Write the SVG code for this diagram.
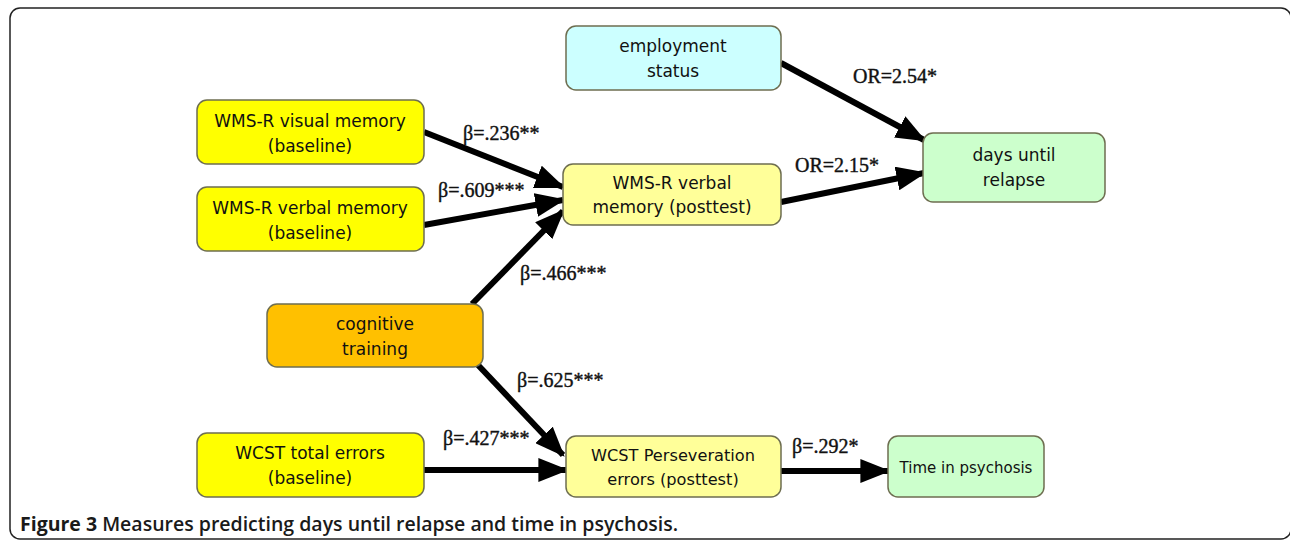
<svg xmlns="http://www.w3.org/2000/svg" width="1290" height="542" viewBox="0 0 1290 542">
<style>
.node{stroke:#6e6e50;stroke-width:1.5}
.nt{font-family:"DejaVu Sans",sans-serif;font-size:17px;fill:#111;text-anchor:middle}
.nt.s{font-size:16.2px}
.nt.xs{font-size:15px}
.lbl{font-family:"Liberation Serif",serif;font-size:20px;fill:#111;stroke:#111;stroke-width:0.4}
.edge{stroke:#000;stroke-width:6;fill:none;marker-end:url(#ah)}
.cap{font-family:"Open Sans","Noto Sans",sans-serif;font-size:19.5px;fill:#1a1a1a}
</style>
<defs>
<marker id="ah" markerWidth="5" markerHeight="4" refX="4.6" refY="2" orient="auto" markerUnits="strokeWidth">
<path d="M0,0 L5,2 L0,4 z" fill="#000"/>
</marker>
</defs>
<rect x="10" y="8" width="1281" height="531" rx="10" fill="#fff" stroke="#222" stroke-width="1.5"/>
<g id="connectors">
<line class="edge" x1="424" y1="132" x2="563" y2="187"/>
<line class="edge" x1="424" y1="225" x2="563" y2="200"/>
<line class="edge" x1="472" y1="304" x2="563" y2="211"/>
<line class="edge" x1="478" y1="365" x2="563" y2="455"/>
<line class="edge" x1="424" y1="470" x2="566" y2="470"/>
<line class="edge" x1="781" y1="471" x2="888" y2="471"/>
<line class="edge" x1="781" y1="63" x2="924" y2="140"/>
<line class="edge" x1="781" y1="202" x2="924" y2="173"/>
</g>
<g id="labels">
<text class="lbl" x="463" y="140">β=.236**</text>
<text class="lbl" x="438" y="197">β=.609***</text>
<text class="lbl" x="520" y="280">β=.466***</text>
<text class="lbl" x="517" y="387">β=.625***</text>
<text class="lbl" x="443" y="445">β=.427***</text>
<text class="lbl" x="792" y="453">β=.292*</text>
<text class="lbl" x="853" y="83">OR=2.54*</text>
<text class="lbl" x="795" y="172">OR=2.15*</text>
</g>
<g id="n-visual">
<rect class="node" x="197" y="100" width="227" height="64" rx="10" fill="#ffff00"/>
<text class="nt" x="310" y="127">WMS-R visual memory</text>
<text class="nt" x="310" y="152">(baseline)</text>
</g>
<g id="n-verbal-base">
<rect class="node" x="197" y="187" width="227" height="64" rx="10" fill="#ffff00"/>
<text class="nt" x="310" y="214">WMS-R verbal memory</text>
<text class="nt" x="310" y="239">(baseline)</text>
</g>
<g id="n-employment">
<rect class="node" x="566" y="26" width="215" height="64" rx="10" fill="#ccffff"/>
<text class="nt" x="673" y="52">employment</text>
<text class="nt" x="673" y="77">status</text>
</g>
<g id="n-verbal-post">
<rect class="node" x="563" y="164" width="218" height="61" rx="10" fill="#ffff99"/>
<text class="nt" x="672" y="189">WMS-R verbal</text>
<text class="nt" x="672" y="213">memory (posttest)</text>
</g>
<g id="n-days">
<rect class="node" x="923" y="133" width="182" height="69" rx="10" fill="#ccffcc"/>
<text class="nt" x="1014" y="161">days until</text>
<text class="nt" x="1014" y="186">relapse</text>
</g>
<g id="n-cognitive">
<rect class="node" x="267" y="304" width="216" height="63" rx="10" fill="#ffc000"/>
<text class="nt" x="375" y="330">cognitive</text>
<text class="nt" x="375" y="355">training</text>
</g>
<g id="n-wcst-total">
<rect class="node" x="197" y="433" width="227" height="64" rx="10" fill="#ffff00"/>
<text class="nt" x="310" y="459">WCST total errors</text>
<text class="nt" x="310" y="484">(baseline)</text>
</g>
<g id="n-wcst-persev">
<rect class="node" x="566" y="436" width="215" height="61" rx="10" fill="#ffff99"/>
<text class="nt s" x="673" y="461">WCST Perseveration</text>
<text class="nt s" x="673" y="485">errors (posttest)</text>
</g>
<g id="n-time">
<rect class="node" x="888" y="436" width="156" height="61" rx="10" fill="#ccffcc"/>
<text class="nt xs" x="966" y="473">Time in psychosis</text>
</g>
<text class="cap" x="20" y="531"><tspan font-weight="bold">Figure 3</tspan><tspan font-weight="600"> Measures predicting days until relapse and time in psychosis.</tspan></text>
</svg>
